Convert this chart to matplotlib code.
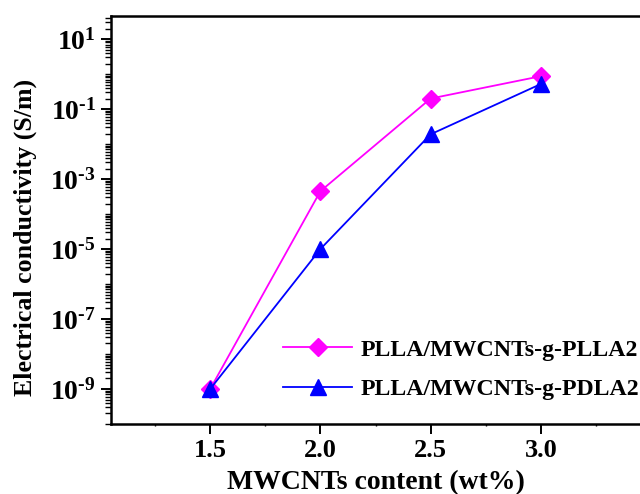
import matplotlib
matplotlib.use("Agg")
import matplotlib.pyplot as plt
from matplotlib.ticker import LogLocator, FixedLocator, MultipleLocator, NullFormatter

plt.rcParams["font.family"] = ["Liberation Serif", "DejaVu Serif"]
plt.rcParams["font.weight"] = "bold"
plt.rcParams["mathtext.fontset"] = "custom"
plt.rcParams["mathtext.rm"] = "Liberation Serif:bold"
plt.rcParams["mathtext.it"] = "Liberation Serif:bold"
plt.rcParams["mathtext.bf"] = "Liberation Serif:bold"

# MWCNT loading (wt%) and measured conductivity (S/m)
content = [1.5, 2.0, 2.5, 3.0]
sigma_plla2 = [1.0e-9, 4.5e-4, 0.20, 0.87]
sigma_pdla2 = [1.0e-9, 1.0e-5, 0.019, 0.52]
labels = ["PLLA/MWCNTs-g-PLLA2", "PLLA/MWCNTs-g-PDLA2"]
exponents = [-9, -7, -5, -3, -1, 1]

fig = plt.figure(figsize=(6.4, 4.94), dpi=100)
ax = fig.add_axes([111 / 640, 1 - 424 / 494, 1 - 111 / 640, (424 - 16) / 494])

ax.plot(content, sigma_plla2, color="#ff00ff", lw=1.3, marker="D", ms=9,
        label=labels[0])
ax.plot(content, sigma_pdla2, color="#0000ff", lw=1.3, marker="^", ms=11,
        label=labels[1])

ax.set_yscale("log")
ax.set_xlim(1.05, 3.45)
ax.set_ylim(1e-10, 10 ** 1.66)

ax.xaxis.set_major_locator(FixedLocator(content))
ax.xaxis.set_minor_locator(MultipleLocator(0.25))
ax.set_xticklabels([f"{c:.1f}" for c in content])

ax.yaxis.set_major_locator(FixedLocator([10.0 ** e for e in exponents]))
ax.yaxis.set_minor_locator(LogLocator(base=10, subs=range(1, 10), numticks=30))
ax.yaxis.set_minor_formatter(NullFormatter())
# plain hyphen in the exponent, as in the printed figure
ax.set_yticklabels([rf"$10^{{\text{{{'-' if e < 0 else ''}}}{abs(e)}}}$"
                    for e in exponents])

ax.spines["right"].set_visible(False)
for s in ["left", "bottom", "top"]:
    ax.spines[s].set_linewidth(1.8)

ax.tick_params(axis="both", which="major", direction="out", length=7, width=1.4,
               pad=4)
ax.tick_params(axis="y", which="minor", direction="out", length=4, width=1)
ax.tick_params(axis="x", which="minor", direction="out", length=1.5, width=1)
ax.tick_params(axis="x", which="major", labelsize=19)
ax.tick_params(axis="y", which="major", labelsize=20)

ax.set_xlabel("MWCNTs content (wt%)", fontsize=20, fontweight="bold")
ax.xaxis.set_label_coords(0.5, -0.112)
ax.set_ylabel("Electrical conductivity (S/m)", fontsize=18.6, fontweight="bold")
ax.yaxis.set_label_coords(-0.14, 0.458)

ax.legend(loc="lower right", bbox_to_anchor=(1.017, 0.035), frameon=False,
          fontsize=17.2, handlelength=2.9, handletextpad=0.35, labelspacing=0.75,
          borderaxespad=0.0)

fig.savefig("out.png", dpi=100)
